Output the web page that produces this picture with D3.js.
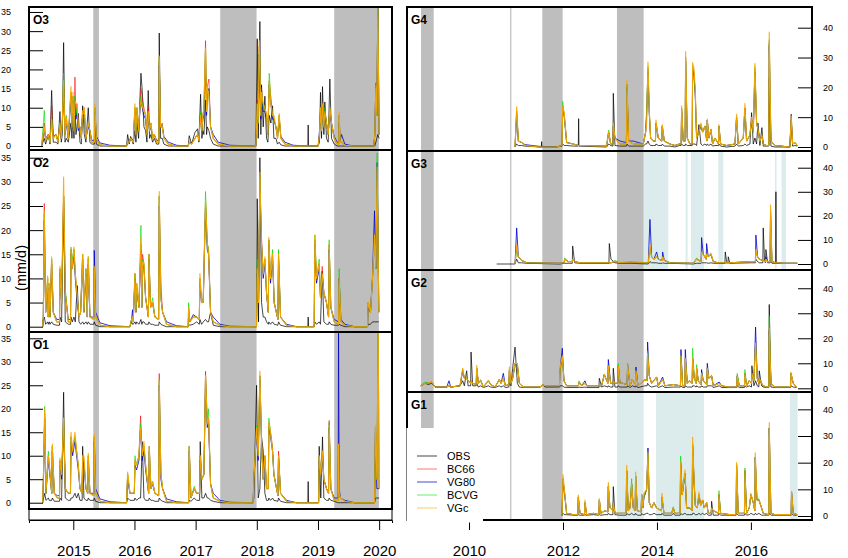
<!DOCTYPE html>
<html>
<head>
<meta charset="utf-8">
<script src="https://cdn.jsdelivr.net/npm/d3@7"></script>
<style>
  body { margin: 0; background: #fff; }
  text { font-family: "Liberation Sans", Arial, sans-serif; }
</style>
</head>
<body>
<div id="chart"></div>
<script>
// series order in every row: [year, OBS, BC66, VG80, BCVG, VGc]  (mm/d)
var seriesNames = ["OBS", "BC66", "VG80", "BCVG", "VGc"];

var leftYears = [2015, 2016, 2017, 2018, 2019, 2020];
var rightYears = [2010, 2012, 2014, 2016];
var leftTicks = [0, 5, 10, 15, 20, 25, 30, 35];
var rightTicks = [0, 10, 20, 30, 40];

// shaded periods (decimal years)
var leftGray = [[2015.327, 2015.419], [2017.402, 2017.996], [2019.265, 2019.995]];
var rightGray = [[2008.979, 2009.248], [2011.560, 2011.993], [2013.149, 2013.716]];
var g1Gray = [[2008.979, 2009.248], [2011.560, 2011.993]];
var g3Blue = [[2013.716, 2014.241], [2014.610, 2014.652], [2014.723, 2015.000], [2015.305, 2015.411], [2016.511, 2016.546], [2016.652, 2016.745]];
var g1Blue = [[2013.149, 2013.716], [2013.979, 2015.000], [2016.830, 2016.993]];
var rightMark = 2010.887;

var o3Rows = [
[2014.483,0,0,0,0,0],[2014.526,2,6,4,9.3,5],[2014.548,0.5,1.5,2,1.5,1.5],[2014.592,3,3,3,2,3],
[2014.619,0.5,1,1.5,1,1],[2014.646,14.5,10.5,7,8,7],[2014.673,1,2,2.5,2,2],[2014.717,1,3,3,3,3],
[2014.749,0.5,1,1.5,1,1],[2014.782,9,6,6,6,6],[2014.804,1,2,2,2,2],[2014.820,3,6,5,6,6],
[2014.842,27,16,15,19,17],[2014.864,1,3,3,3,3],[2014.886,2,7.5,6,8,7.5],[2014.918,1,2,2,2,2],
[2014.962,6,14,13,14,15.5],[2014.978,2,5,5,5,5],[2014.995,8,13,12,13,14],[2015.011,2,4,4,4,4],
[2015.027,10,18,12,13,12],[2015.044,3,8,7,8,11],[2015.060,5,11,9,10,11],[2015.082,8.5,5,4,5,5],
[2015.109,1,5,5,5,5],[2015.131,0.5,2,2,2,2],[2015.153,10.5,9,8,9,9],[2015.180,3,10,8,9,10],
[2015.207,1,2,2,2,2],[2015.245,10,6,5,6,6],[2015.272,1,4,4,4,4],[2015.300,0.5,1,1.5,1,1],
[2015.345,0.5,1,1.5,1,1],[2015.354,6,10,9,10,11],[2015.376,0.5,2,2.5,2,2],[2015.436,0,0.3,0.8,0.3,0.3],
[2015.600,0,0,0.2,0,0],[2015.871,0,0,0,0,0],[2015.888,3,1,1,1,1],[2015.915,0.5,1,1,1,1],
[2015.937,2.5,2,2,2,2],[2015.980,0.5,1,1.5,1,1],[2016.008,4,10,9,10,11],[2016.024,1,3,3,3,3],
[2016.040,6,10,9,10,10],[2016.068,2,4,4,4,4],[2016.089,12,10,9,10,10],[2016.106,19,15,12,13,12],
[2016.127,14.5,12.5,10,11,10.5],[2016.155,5,10,8,9,9],[2016.182,4,8,7,8,8.5],[2016.204,1,3,3,3,3],
[2016.225,14.5,10,8,9,9],[2016.247,2,4,4,4,4],[2016.269,3,6,5,6,6],[2016.296,1,2,2,2,2],
[2016.324,2,3,3,3,3],[2016.362,0.5,1,1.5,1,1],[2016.398,0.5,1,1.5,1,1],[2016.405,29.5,22,21,23,23.5],
[2016.427,2,5,5,5,5],[2016.455,2,6,5,5.5,5],[2016.481,0.5,2,2.5,2,2],[2016.552,0,0.5,1,0.5,0.5],
[2016.688,0,0,0.2,0,0],[2016.879,0,0,0,0,0],[2016.895,2.7,1,1,1,1],[2016.934,0.5,0.5,0.8,0.5,0.5],
[2016.988,3.5,2,2,2,2],[2017.032,4.5,3,3,3,3],[2017.053,1,1.5,2,1.5,1.5],[2017.081,13.5,9,8,9,8],
[2017.102,2,4,4,4,4],[2017.119,4,8,7,8,8],[2017.135,3,10,8,9,10],[2017.162,12,27.5,22,26,25.5],
[2017.179,3,9,8,9,9],[2017.190,5,15.5,14,15,15.5],[2017.217,4,17.5,15,14,13],[2017.244,2,5,5,5,5],
[2017.288,0.5,2,3,2,2],[2017.369,0,0.5,1,0.5,0.5],[2017.560,0,0,0.2,0,0],[2017.985,0,0,0,0,0],
[2018.007,28,12,11,11,11],[2018.023,2,6,6,6,6],[2018.039,15,26,24,25,27.5],[2018.050,32.5,20,21,23,22],
[2018.066,3,8,7,8,8],[2018.077,16,15,13,14,14],[2018.105,5,10,9,10,11],[2018.132,13,10,9,10,10],
[2018.159,2,8,7,8,8],[2018.181,1,3,3,3,3],[2018.203,8,17,16,19,17],[2018.230,6,12.5,11,12,11],
[2018.257,10.5,8,7,8,8],[2018.279,2,7,7,7,8],[2018.312,2,5,5,5,5],[2018.339,0.5,2,2.5,2,2],
[2018.366,1,8,7,8,8.5],[2018.393,0.3,2,2.5,2,2],[2018.459,0,0.5,1,0.5,0.5],[2018.595,0,0,0.2,0,0],
[2018.834,0,0,0,0,0],[2018.840,5.5,0,0,0,0],[2018.846,0,0,0,0,0],[2019.003,0,0,0,0,0],
[2019.025,1,3,4,3,3],[2019.041,14,10,9,10,10],[2019.058,2,4,4,4,4],[2019.074,15.5,11,9,10,11],
[2019.096,3,5,5,5,5],[2019.112,11.5,10,9,10,9],[2019.139,2,6,6,6,6],[2019.167,1,3,3,3,3],
[2019.194,17.5,10,9,10,10],[2019.221,2,6,6,6,6],[2019.265,0.5,2,2.5,2,2],[2019.314,0,0.5,1,0.5,0.5],
[2019.340,0,0.5,1,0.5,0.5],[2019.346,0,8,6,8,9],[2019.363,0,1,1.5,1,1],[2019.385,0,1,3,1,1],
[2019.439,0,0.2,0.5,0.2,0.2],[2019.575,0,0,0,0,0],[2019.913,0,0,0,0,0],[2019.929,0,3,3,3,3],
[2019.946,1,16.5,16,15,16],[2019.962,2,8,8,8,8],[2019.978,3,36,36,38,36],[2020.000,2,3,3,3,3]
];

var o2Rows = [
[2014.499,0,0,0,0,0],[2014.510,1.5,2,2,2,2],[2014.526,2,25.5,22,23.5,24],[2014.548,0.5,3,3,3,3],
[2014.581,1,10,9,10,10.5],[2014.592,0.5,2,2,2,2],[2014.608,1,8,8,9,9],[2014.619,0.5,2,2,2,2],
[2014.646,1,14,13,14,14.5],[2014.673,0.5,3,3,3,3],[2014.728,0.3,1,1.5,1,1],[2014.775,0.3,1,1.5,1,1],
[2014.782,2,12,11,12,12.5],[2014.809,1,5,5,5,5],[2014.842,27,27,26,27,31],[2014.869,1,7,7,8,7],
[2014.918,0.5,1,1.5,1,1],[2014.955,0.5,1,1.5,1,1],[2014.962,2,16,15,16.5,16],[2014.984,1,12,12,14,12],
[2015.011,2,16,15,16,16.5],[2015.033,1,11,10,11,11],[2015.065,8.5,6,5,6,6],[2015.093,1,2,2,2,2],
[2015.120,0.5,3,3,3,3],[2015.153,1,15,14,15,15],[2015.174,0.5,3,3,3,3],[2015.207,1,12,11,12,12],
[2015.229,0.5,2,2,2,2],[2015.245,1,14,13,14.5,14.5],[2015.272,0.5,2,2,2,2],[2015.335,0.5,1.5,2,1.5,1.5],
[2015.343,1,12,15.8,12,12.5],[2015.365,0.3,2,3,2,2],[2015.436,0,0.3,0.8,0.3,0.3],[2015.600,0,0,0.2,0,0],
[2015.926,0,0,0,0,0],[2015.953,1,1.5,1.5,1.5,1.5],[2015.969,0.5,2,3.5,2,2],[2015.980,0.5,1,1.5,1,1],
[2016.008,1,11,10,11,11],[2016.024,0.5,3,3,3,3],[2016.035,1,9,8,9,9],[2016.073,0.5,4,4,4,4],
[2016.106,1.5,17,16,21,18.5],[2016.120,0.5,4,4,4,4],[2016.133,1,15,13,14,13.5],[2016.155,1,13,12,13,13],
[2016.182,0.5,6,6,6,6],[2016.228,0.5,2,2,2,2],[2016.236,1,15,14,15,15],[2016.264,0.5,4,4,4,4],
[2016.296,0.5,5,5,6,5],[2016.334,0.3,2,2,2,2],[2016.395,0.3,1.5,1.5,1.5,1.5],[2016.405,1,27,25,27,28],
[2016.432,0.5,8.5,6,6,6],[2016.460,0.3,3,3,3,3],[2016.525,0,0.5,1,0.5,0.5],[2016.688,0,0,0.2,0,0],
[2016.879,0,0,0,0,0],[2016.885,0.5,4,3,5,4],[2016.906,0.3,1,1,1,1],[2016.961,0.5,2,2.5,2,2],
[2017.015,1,2,2,2,2],[2017.060,0.5,1.5,1.5,1.5,1.5],[2017.070,1.5,10,9,10,11],[2017.097,0.5,5,5,6,5],
[2017.124,1,5,5,5,5],[2017.162,1.5,26,25,28,26],[2017.190,1,17,16,17,17.5],[2017.211,1,16,15,16.5,15],
[2017.244,3,3,3,3,3],[2017.288,0.3,1,2,1,1],[2017.397,0,0.3,0.5,0.3,0.3],[2017.560,0,0,0.1,0,0],
[2017.995,0,0,0,0,0],[2018.007,26.5,12,11,14,12],[2018.028,1,5,5,5,5],[2018.050,35,30,29,31,32],
[2018.077,5,18.5,17,17,17],[2018.105,2,11,10,11,11],[2018.132,2,14,13,14,14.5],[2018.159,1,7,7,7,7],
[2018.188,0.5,3,3,3,3],[2018.197,1,18,17,18,18.5],[2018.224,0.5,10,9,10,10],[2018.257,1,15,14,16,15],
[2018.284,0.5,5,5,5,5],[2018.345,0.3,1.5,1.5,1.5,1.5],[2018.355,1,15,14,16,15],[2018.388,0.3,2,2,2,2],
[2018.486,0,0.3,0.5,0.3,0.3],[2018.650,0,0,0,0,0],[2018.834,0,0,0,0,0],[2018.840,2,0,0,0,0],
[2018.846,0,0,0,0,0],[2018.938,0,0,0,0,0],[2018.949,1,18,17,19,19],[2018.976,0.5,10,9,10,10],
[2019.020,1,13,12,14,13],[2019.041,0.5,6,6,6,6],[2019.069,11.5,12.5,11,11,11],[2019.096,1,7,7,7,7],
[2019.139,0.5,5,5,5,5],[2019.173,0.5,2,2,2,2],[2019.183,1,17,16,18,17],[2019.210,0.5,4,4,4,4],
[2019.265,0.3,1,1.5,1,1],[2019.336,0.3,0.5,1,0.5,0.5],[2019.346,0.5,10,10,12,10],[2019.374,0.3,1,1.5,1,1],
[2019.439,0,0.3,0.5,0.3,0.3],[2019.600,0,0,0,0,0],[2019.810,0,0,0,0,0],[2019.820,0.5,5,4,5,5],
[2019.858,0.5,3,3,3,3],[2019.891,1,10,10,10,10],[2019.924,1,19,24,19,19],[2019.946,1,12,12,12,12],
[2019.967,1,33,34,36,33],[2019.995,1,3,3,3,3]
];

var o1Rows = [
[2014.499,0,0,0,0,0],[2014.515,1,7,6,7,7.5],[2014.532,2,19,18,20.5,20],[2014.553,0.5,2,2,2,2],
[2014.592,1,10,9,11,10],[2014.608,0.5,8,7,8,8],[2014.648,0.5,2,2,2,2],[2014.657,1,12,11,12,12.5],
[2014.690,0.3,2,2,2,2],[2014.739,0.3,1,1.5,1,1],[2014.775,0.3,1,1.5,1,1],[2014.782,1,9,8,9,9.5],
[2014.809,0.5,6,5,6,6],[2014.842,23.5,17,16,18,18],[2014.869,1,3,3,3,3],[2014.918,0.5,2,2,2,2],
[2014.954,0.5,2,2,2,2],[2014.962,1,14,13,14,15],[2014.989,1,11,10,11,11],[2015.027,2,14,13,14,15],
[2015.054,1,11,10,11,11],[2015.082,2,8,7,8,8],[2015.109,0.5,3,3,3,3],[2015.145,0.5,2,2,2,2],
[2015.153,12,10,9,10,10],[2015.174,1,9,8,9,10],[2015.207,0.5,3,3,3,3],[2015.236,0.5,2,2,2,2],
[2015.245,1,10,9,10,10.5],[2015.272,0.5,2,2,2,2],[2015.335,0.5,1.5,2,1.5,1.5],[2015.343,1,14,13,14,14.5],
[2015.365,0.3,2,3,2,2],[2015.436,0,0.3,0.8,0.3,0.3],[2015.600,0,0,0.2,0,0],[2015.871,0,0,0,0,0],
[2015.888,1,6,5,6,6.5],[2015.926,0.5,2,2,2,2],[2015.998,0.5,2,2,2,2],[2016.008,1,9,8,10,9],
[2016.035,0.5,8,7,8,8],[2016.073,1,10,9,10,10],[2016.100,1,18.5,16,17,16],[2016.127,13,10,9,10,10],
[2016.155,1,12,11,12,13],[2016.182,0.5,8,7,8,8],[2016.232,0.5,2,2,2,2],[2016.242,1,12,11,12,12],
[2016.269,0.5,3,3,3,3],[2016.296,0.5,4.5,4,4.5,4.5],[2016.334,0.3,2,2,2,2],[2016.395,0.3,1.5,1.5,1.5,1.5],
[2016.405,1,27.5,25,26,26],[2016.432,0.5,6,5,6.5,6],[2016.460,0.3,3,3,3,3],[2016.525,0,0.3,0.8,0.3,0.3],
[2016.688,0,0,0.2,0,0],[2016.885,0,0,0,0,0],[2016.895,0.5,12,11,12,12],[2016.923,0.3,1,1,1,1],
[2016.977,1,3,3,3.5,3],[2017.015,0.5,2,2,2,2],[2017.065,0.5,2,2,2,2],[2017.075,13,10,9,10,10],
[2017.102,1,5,5,5,5],[2017.135,1,6,6,6,6],[2017.162,2,28,26,27,27],[2017.190,1,17,16,17,17],
[2017.211,1,18,17,20,18],[2017.244,0.5,4,4,4,4],[2017.288,0.3,1,2,1,1],[2017.397,0,0.3,0.5,0.3,0.3],
[2017.560,0,0,0.1,0,0],[2017.940,0,0,0,0,0],[2017.952,1,5,5,5,5],[2017.996,25,16,15,16.5,16],
[2018.023,1,10,9,10,10],[2018.050,3,27,26,27,28],[2018.077,14,14,13,13,13],[2018.105,11,5,5,5,5],
[2018.132,2,10,9,10,10],[2018.159,0.5,3,3,3,3],[2018.188,0.5,3,3,3,3],[2018.197,1,17,16,18,17],
[2018.224,0.5,15,14,15,15],[2018.257,1,12,11,11,11],[2018.279,0.5,6,6,6,6],[2018.345,0.3,1.5,1.5,1.5,1.5],
[2018.355,1,11,10,10,10],[2018.388,0.3,2,2,2,2],[2018.486,0,0.3,0.5,0.3,0.3],[2018.650,0,0,0,0,0],
[2018.834,0,0,0,0,0],[2018.840,4.5,0,0,0,0],[2018.846,0,0,0,0,0],[2019.010,0,0,0,0,0],
[2019.020,12,10,9,10,10],[2019.046,1,6,6,6,6],[2019.074,14,11,10,11,11],[2019.096,1,5,5,5,5],
[2019.139,0.5,3,3,3,3],[2019.173,0.5,2,2,2,2],[2019.183,1,17.5,16,17,16.5],[2019.210,0.5,3,3,3,3],
[2019.265,0.3,0.5,1,0.5,0.5],[2019.330,0,0.5,1,0.5,0.5],[2019.336,0,12,38,12,12.5],[2019.346,0,2,3,2,2],
[2019.368,0,1,1,1,1],[2019.439,0,0.3,0.5,0.3,0.3],[2019.600,0,0,0,0,0],[2019.925,0,0,0,0,0],
[2019.940,1,16,16,16,16.5],[2019.962,1,5,3,5,5],[2019.984,1,36,3,37,36],[2020.000,1,3,3,3,3]
];

var g4Rows = [
[2010.979,0,0,0,0,0],[2011.014,1,12,11,12,13.5],[2011.050,0.5,2,2,2,2],[2011.121,0.5,1.5,1.5,1.5,1.5],
[2011.191,0.3,0.5,0.8,0.5,0.5],[2011.511,0,0,0.2,0,0],[2011.540,0,0,0.2,0,0],[2011.546,1.8,0,0.2,0,0],
[2011.552,0,0,0.2,0,0],[2011.865,0,0,0.1,0,0],[2011.982,0.3,0.5,0.5,0.5,0.5],[2011.993,1,14,13,15.3,14],
[2012.028,0.5,11,10,10,11],[2012.078,0.5,1.5,1.5,1.5,1.5],[2012.220,0.3,1,1,1,1],[2012.326,0.3,0.5,0.5,0.5,0.5],
[2012.333,9.5,0.5,0.5,0.5,0.5],[2012.340,0.3,0.5,0.5,0.5,0.5],[2012.929,0,0.3,0.3,0.3,0.3],[2012.972,1,5,5,5.7,5],
[2013.014,0.5,1,1,1,1],[2013.064,0.3,1,1,1,1],[2013.071,18,7,7,7,8],[2013.106,0.5,3,3,3,3],
[2013.213,0.3,1,2,1,1],[2013.350,0.3,1,1.5,1,1],[2013.362,1,21,20,21,22.5],[2013.397,0.3,2,2,2,2],
[2013.496,0.3,1,2,1,1],[2013.709,0.3,1,1,1,1],[2013.759,1,5,5,5,5],[2013.780,1,10,11,12.5,8],
[2013.809,2,26,25,27,28.5],[2013.837,1,12,11,12,12],[2013.865,0.5,3,3,3,3],[2013.922,0.5,2,2,2,2],
[2013.968,0.5,2,2,2,2],[2013.979,1,8,8,8,9],[2014.028,0.5,3,3,3,3],[2014.102,0.5,2,2,2,2],
[2014.113,1,7,7,7,7.5],[2014.156,0.3,2,2,2,2],[2014.277,0.3,1,1,1,1],[2014.383,0,0.5,0.5,0.5,0.5],
[2014.475,0.5,1,1,1,1],[2014.515,0.5,1,1,1,1],[2014.525,1,13,12,13,13.8],[2014.560,0.5,2,2,2,2],
[2014.600,0.5,2,2,2,2],[2014.610,1,30,29,30,32],[2014.645,0.5,3,3,3,3],[2014.702,0.5,1,1,1,1],
[2014.750,0.5,1,1,1,1],[2014.759,1,27,26,27,28.3],[2014.787,1,25,24,25,26.4],[2014.816,1,18,17,18,19.2],
[2014.844,0.5,3,3,3,3],[2014.894,7.5,5,5,5,5],[2014.936,1,7.5,7,7.5,8],[2014.972,0.5,5,5,5,5],
[2015.021,1,7,7,7,7],[2015.060,0.5,2,2,2,2],[2015.071,1,9,9,9,9.4],[2015.106,0.5,3,3,3,3],
[2015.149,1,6,5.5,6,6],[2015.184,0.3,1,1,1,1],[2015.234,0.5,3,3,3,3],[2015.310,0.5,1,1,1,1],
[2015.319,1,7,7,7,7.5],[2015.355,0.3,1,1,1,1],[2015.482,0,0.5,0.5,0.5,0.5],[2015.660,0.3,1,1,1,1],
[2015.695,1,10,10,10,11],[2015.730,0.3,1,1,1,1],[2015.837,0.5,3,3,3,3],[2015.872,1,13,13,13,14.6],
[2015.908,0.5,2,2,2,2],[2015.979,1,4,4,4,4],[2016.014,11.5,9,9,9,10],[2016.050,1,5,5,5,5],
[2016.085,3,26,25,27,28],[2016.121,1,8,8,8,8],[2016.149,8,6,6,6,6],[2016.191,0.5,2,2,2,2],
[2016.234,6.5,4,4,4,4],[2016.262,0.3,1,1,1,1],[2016.333,0.3,0.5,0.5,0.5,0.5],[2016.380,0.3,0.5,0.5,0.5,0.5],
[2016.390,23,35,34,36,38.5],[2016.426,0.3,2,2,2,2],[2016.511,0,0.5,0.5,0.5,0.5],[2016.830,0,0,0,0,0],
[2016.858,11,9,9,9,10.5],[2016.887,0.3,1,1,1,1],[2016.936,0.5,1.5,1.5,1.5,1.5],[2016.986,0.3,0.5,0.5,0.5,0.5]
];

var g3Rows = [
[2010.589,0,null,null,null,null],[2010.979,0,0,0,0,0],[2011.014,2,7,15,6,8],[2011.050,0.5,3,3,3,3],
[2011.121,0.5,1.5,1.5,1.5,1.5],[2011.227,0.3,0.5,0.5,0.5,0.5],[2011.936,0,0.3,0.3,0.3,0.3],[2012.025,0.3,0.5,0.5,0.5,0.5],
[2012.035,0.3,2,2,2.5,2],[2012.113,0.3,1,1,1,1],[2012.198,0.3,1,1,1,1],[2012.206,7.5,2,2,2,2],
[2012.248,0.5,1,1,1,1],[2012.362,0.3,0.5,0.5,0.5,0.5],[2012.978,0.3,0.5,0.5,0.5,0.5],[2012.986,8.5,0.5,0.5,0.5,0.5],
[2013.021,2,0.5,0.5,0.5,0.5],[2013.106,0.5,1,1,1.5,1],[2013.213,0.3,0.5,0.5,0.5,0.5],[2013.426,0.3,0.5,0.5,1,0.5],
[2013.816,0,0.5,0.5,0.5,0.5],[2013.851,1,7,18.5,6,8],[2013.887,0.5,3,3,3,3],[2013.936,0.5,2,2,2,2],
[2013.993,0.5,3,5,3,3],[2014.028,0.3,2,2,2,2],[2014.112,0.3,1.5,1.5,1.5,1.5],[2014.121,0.5,3,5,3,3],
[2014.156,0.3,1.5,1.5,1.5,1.5],[2014.277,0.3,0.5,0.5,0.5,0.5],[2014.773,0,0.3,0.3,0.3,0.3],[2014.844,0.3,2,2,2.5,2],
[2014.940,0.3,1,1,1,1],[2014.950,0.5,5,11,4,5],[2014.986,0.5,4,4,4,4],[2015.047,0.5,2,2,2,2],
[2015.057,0.5,4,8.5,4,4],[2015.092,0.3,3,3,3,3],[2015.149,0.5,4,4,4,4.5],[2015.199,0.3,1,1,1,1],
[2015.305,0.3,0.5,0.5,0.5,0.5],[2015.446,0.3,0.5,0.5,0.5,0.5],[2015.454,5,0.5,0.5,0.5,0.5],[2015.482,1,0.5,0.5,0.5,0.5],
[2015.512,0.5,0.5,0.5,0.5,0.5],[2015.518,3,0.5,0.5,0.5,0.5],[2015.553,0.3,0.5,0.5,0.5,0.5],[2016.014,0.5,1,1,1,1],
[2016.095,0.5,1,1,1,1],[2016.106,2,5,12,5,6],[2016.142,1,3,3,3,3],[2016.177,0.5,2,2,2,2],
[2016.254,0.5,1.5,1.5,1.5,1.5],[2016.262,15,2,2,2,2],[2016.291,1,1,1,1,1],[2016.312,0.5,1,1,1,1],
[2016.319,6,2,3,2,2],[2016.355,0.5,1,1,1,1],[2016.408,0.5,1,1,1,1],[2016.418,1,22,20,22,24.5],
[2016.447,0.3,1,1,1,1],[2016.525,0.3,0.5,0.5,0.5,0.5],[2016.532,30,0.5,0.5,0.5,0.5],[2016.540,0.3,0.5,0.5,0.5,0.5],
[2016.688,0.3,0.3,0.3,0.3,0.3],[2016.986,0.3,0.3,0.3,0.3,0.3]
];

var g2Rows = [
[2008.972,1,1,1,1,1],[2009.064,2,2,2,2.5,2],[2009.135,1.5,2,2,2,2],[2009.206,2,2.5,2.5,2.5,2.5],
[2009.277,0.5,0.5,0.5,0.5,0.5],[2009.525,0.5,0.5,0.5,0.5,0.5],[2009.574,1,1,3,1,1],[2009.610,0.5,0.5,0.5,0.5,0.5],
[2009.809,1,1,1,1,1],[2009.865,3,7,7,8,7.9],[2009.901,1,4,4,4,4],[2009.950,7,4,4,4,4],
[2009.979,1,3,3,3,3],[2010.035,1,2,2,2,2],[2010.043,14.5,3,3,3,3],[2010.078,1,2,2,2,2],
[2010.153,1,1.5,1.5,1.5,1.5],[2010.163,2,8,8,8,9.2],[2010.199,0.5,2,2,2,2],[2010.248,1,3,3,3.5,3],
[2010.305,0.3,0.5,0.5,0.5,0.5],[2010.411,1,3,3,3,3],[2010.461,0.5,1.5,1.5,1.5,1.5],[2010.553,0.3,0.5,0.5,0.5,0.5],
[2010.645,1,3.5,3.5,3.5,3.5],[2010.681,0.5,2,2,2,2],[2010.730,1,4,6,4,4],[2010.773,0.3,1,1,1,1],
[2010.848,0.5,1.5,1.5,1.5,1.5],[2010.858,2,7,7,7,8.5],[2010.894,1,2,2,2,2],[2010.929,8,4,4,4,4],
[2010.979,16.5,9,10,9,10],[2011.028,2,10,9,10,9.9],[2011.071,0.5,2,2,2,2],[2011.156,0.3,0.5,0.5,0.5,0.5],
[2011.511,0.3,0.5,0.5,0.5,0.5],[2011.567,1.5,1.5,1.5,1.5,1.5],[2011.617,0.5,1,1,1,1],[2011.723,0.5,1,1,1,1],
[2011.865,0.5,1,1,1,1],[2011.925,0.5,1,1,1,1],[2011.936,1,7,7,7,8],[2011.986,1,12,16,12,13],
[2012.021,0.5,3,3,3,3],[2012.078,0.3,1,1,1,1],[2012.330,0.3,1,1,1,1],[2012.340,0.5,2.5,2.5,3,2.5],
[2012.397,0.3,1,1,1,1],[2012.468,0.5,2,3,2,2],[2012.504,0.3,1,1,1,1],[2012.765,0.3,1,1,1,1],
[2012.773,4,1,1,1,1],[2012.823,0.5,1,1,1,1],[2012.879,1,5.5,5.5,5.5,5.5],[2012.955,0.5,2,2,2,2],
[2012.965,1,9,11.5,9,9],[2013.014,0.5,2,2,2,2],[2013.063,0.5,2,2,2,2],[2013.071,8,3,3,3,3],
[2013.106,0.5,2,2,2,2],[2013.168,0.5,2,2,2,2],[2013.177,1,9,9,10,9],[2013.213,0.5,2,2,2,2],
[2013.270,0.5,2,2,2,2],[2013.365,0.5,1.5,1.5,1.5,1.5],[2013.376,1,9,9,10,9],[2013.426,0.3,1,1,1,1],
[2013.475,1,3.5,3.5,3.5,3.5],[2013.543,0.5,1.5,1.5,1.5,1.5],[2013.553,1,7,8.5,7,7],[2013.596,0.3,1,1,1,1],
[2013.745,1,3.5,3.5,3.5,3.5],[2013.790,1,3,3,3,3],[2013.801,2,14,18.5,15,14],[2013.837,1,5,5,5,5],
[2013.887,0.5,2,2,2,2],[2013.993,1,4.5,4.5,4.5,4.5],[2014.028,0.3,1,1,1,1],[2014.121,1,3.5,4.5,3.5,3.5],
[2014.170,0.3,1,1,1,1],[2014.348,0.5,1.5,1.5,1.5,1.5],[2014.500,0.5,1,1,1,1],[2014.511,1,13,15.5,13,13],
[2014.546,0.3,1,1,1,1],[2014.593,0.3,1,1,1,1],[2014.603,1,12,15.5,12,12],[2014.645,0.5,2,2,2,2],
[2014.688,0.5,3,3,3,3],[2014.750,0.5,2,2,2,2],[2014.759,1,12,12,16,12],[2014.794,1,4,4,4,4],
[2014.834,0.5,2,2,2,2],[2014.844,1,8,8,9.5,8],[2014.879,0.5,3,3,3,3],[2014.940,0.5,1.5,1.5,1.5,1.5],
[2014.950,1,6,7.5,6,6],[2014.986,0.5,3,3,3,3],[2015.060,0.5,1.5,1.5,1.5,1.5],[2015.071,1,8,10,8,8],
[2015.106,1,4,4,4,4],[2015.163,1,5,5,5,5],[2015.199,0.3,1,1,1,1],[2015.326,1,2,2.5,2,2],
[2015.376,0.3,1,1,1,1],[2015.518,0.3,0.5,0.5,0.5,0.5],[2015.698,0.3,0.5,0.5,0.5,0.5],[2015.709,1,5,5,6,5],
[2015.752,0.3,1,1,1,1],[2015.862,0.3,1,1,1,1],[2015.872,1,6,6,7.5,6],[2015.908,0.5,1,1,1,1],
[2015.965,1,3,3,3,3],[2016.012,0.5,2,2,2,2],[2016.021,9,6,6,6,6],[2016.064,1,3,3,3,3],
[2016.099,3,18,24.5,18,18],[2016.135,1,4,4,4,4],[2016.168,0.5,2,2,2,2],[2016.177,7,4,4,4,4],
[2016.227,1,2,2,2,2],[2016.262,0.5,1,1,1,1],[2016.333,0.3,0.5,0.5,0.5,0.5],[2016.380,0.3,0.5,0.5,0.5,0.5],
[2016.390,33.5,24,23,29,24],[2016.426,0.5,2,2,2,2],[2016.511,0.3,0.5,0.5,0.5,0.5],[2016.816,0.3,0.5,0.5,0.5,0.5],
[2016.843,0.3,0.5,0.5,0.5,0.5],[2016.851,1,6,6,6,6.5],[2016.901,0.5,2,2,2,2],[2016.972,0.3,0.5,0.5,0.5,0.5]
];

var g1Rows = [
[2011.979,0,0,0,0,0],[2012.000,1,14,13,14,15.5],[2012.028,0.5,10,9,10,10],[2012.078,0.5,1,1,1,1],
[2012.220,0.3,0.5,0.5,0.5,0.5],[2012.316,0.3,0.5,0.5,0.5,0.5],[2012.326,0.5,7,7,7,7.9],[2012.362,0.3,1,1,1,1],
[2012.458,0.3,0.5,0.5,0.5,0.5],[2012.468,0.5,5,5,5,6],[2012.504,0.3,0.5,0.5,0.5,0.5],[2012.645,0.5,1,1,1,1],
[2012.763,0.3,0.5,0.5,0.5,0.5],[2012.773,0.5,6,6,6,6.5],[2012.809,0.3,1,1,1,1],[2012.894,0.5,2,2,2,2],
[2012.955,0.5,1.5,1.5,1.5,1.5],[2012.965,1,11,11,11,12.5],[2013.000,0.5,3,3,3,3],[2013.063,0.5,2,2,2,2],
[2013.071,11,5,5,5,5],[2013.106,0.5,1,1,1,1],[2013.213,0.3,1,1,1,1],[2013.345,0.3,1,1,1,1],
[2013.355,1,17,17,17,19],[2013.390,0.5,2,2,2,2],[2013.426,0.5,3,3,3,3],[2013.461,1,12,12,14,12],
[2013.496,0.5,3,3,3,3],[2013.537,0.5,2,2,2,2],[2013.546,1,15,15,15,16.5],[2013.582,0.3,2,2,2,2],
[2013.664,0.3,1.5,1.5,1.5,1.5],[2013.674,1,8,8,8,8],[2013.700,0.5,3,3,3,3],[2013.723,0.5,7,7,7,8.5],
[2013.780,1,10,10,10,10],[2013.809,1,22,25.5,23,24],[2013.837,0.5,5,5,5,5],[2013.887,0.5,3,3,3,3],
[2013.936,1,5,5,5,5],[2013.993,0.5,3,3,3,3],[2014.096,0.5,2,2,2,2],[2014.106,1,7,7,7,8.5],
[2014.149,0.3,1,1,1,1],[2014.312,0.3,1,1,1,1],[2014.348,1,3,3,3.5,3],[2014.383,0.3,1,1,1,1],
[2014.494,0.3,1,1,1,1],[2014.504,1,20,20,22.5,20],[2014.539,0.5,8,8,8,8],[2014.596,1,16,16,16,17.2],
[2014.631,0.5,3,3,3,3],[2014.702,0.5,3,3,3,3],[2014.750,0.5,2,2,2,2],[2014.759,1,27,26,27,29.5],
[2014.787,1,14,14,14,15],[2014.816,0.5,4,4,4,4],[2014.858,0.5,3,3,3,3],[2014.894,1,8,8,8,9],
[2014.929,0.5,4,4,4,4],[2014.972,1,6,6,6,6],[2015.007,0.5,3,3,3,3],[2015.057,1,5,5,5,5],
[2015.092,0.3,1,1,1,1],[2015.155,0.3,1,1,1,1],[2015.163,5.5,3,3,3,3],[2015.199,0.3,2,2,2,2],
[2015.310,0.3,1,1,1,1],[2015.319,1,8,8,9.5,8],[2015.355,0.3,1,1,1,1],[2015.553,0.3,0.5,0.5,0.5,0.5],
[2015.685,0.3,0.5,0.5,0.5,0.5],[2015.695,1,19,19,19.5,20],[2015.730,0.3,1,1,1,1],[2015.862,0.3,1,1,1,1],
[2015.872,1,17,17,18,17],[2015.908,0.3,1,1,1,1],[2015.965,0.5,3,3,3,3],[2016.000,1,8,8,8,8.5],
[2016.050,0.5,5,5,5,5],[2016.082,0.5,2,2,2,2],[2016.092,1,22,22,22,23.7],[2016.128,0.5,6,6,6,6],
[2016.170,1,6,6,6.5,6],[2016.227,0.3,3,3,3,3],[2016.262,0.3,1,1,1,1],[2016.380,0.3,0.5,0.5,0.5,0.5],
[2016.390,1,33,33,33,35],[2016.426,0.3,1,1,1,1],[2016.511,0.3,0.5,0.5,0.5,0.5],[2016.816,0.3,0.5,0.5,0.5,0.5],
[2016.857,0.3,0.5,0.5,0.5,0.5],[2016.865,1,9,9,9,9.3],[2016.901,0.3,1,1,1,1],[2016.986,0.3,0.5,0.5,0.5,0.5]
];

var colors = ["#000000", "#ff0000", "#0000cd", "#00dd00", "#ffa500"];
var alphas = [0.8, 0.6, 0.8, 0.65, 0.92];
var widths = [0.9, 1, 1, 1, 1.1];

var svg = d3.select("#chart").append("svg")
    .attr("width", 848).attr("height", 558);

var xLeft = d3.scaleLinear().domain([2014.276, 2020.21]).range([29, 392]);
var xRight = d3.scaleLinear().domain([2008.68, 2017.30]).range([407, 812]);

var panels = [
  {name: "O3", rows: o3Rows, x: xLeft, side: "left", top: 7, bottom: 150, ymin: -1.04, ymax: 36.3, gray: leftGray, blue: []},
  {name: "O2", rows: o2Rows, x: xLeft, side: "left", top: 150, bottom: 332, ymin: -1.1, ymax: 36.6, gray: leftGray, blue: []},
  {name: "O1", rows: o1Rows, x: xLeft, side: "left", top: 332, bottom: 509, ymin: -1.34, ymax: 36.34, gray: leftGray, blue: []},
  {name: "G4", rows: g4Rows, x: xRight, side: "right", top: 7, bottom: 151, ymin: -1.34, ymax: 46.94, gray: rightGray, blue: []},
  {name: "G3", rows: g3Rows, x: xRight, side: "right", top: 151, bottom: 270, ymin: -2.49, ymax: 46.94, gray: rightGray, blue: g3Blue},
  {name: "G2", rows: g2Rows, x: xRight, side: "right", top: 270, bottom: 392, ymin: -1.48, ymax: 47.3, gray: rightGray, blue: []},
  {name: "G1", rows: g1Rows, x: xRight, side: "right", top: 392, bottom: 520, ymin: -1.5, ymax: 46.5, gray: g1Gray, blue: g1Blue}
];

panels.forEach(function (p, pi) {
  var x = p.x;
  var x0 = x.range()[0], x1 = x.range()[1];
  var y = d3.scaleLinear().domain([p.ymin, p.ymax]).range([p.bottom, p.top]);
  var g = svg.append("g");

  g.append("clipPath").attr("id", "clip" + pi)
    .append("rect").attr("x", x0).attr("y", p.top)
    .attr("width", x1 - x0).attr("height", p.bottom - p.top);

  g.selectAll(".blue").data(p.blue).enter().append("rect")
    .attr("x", function (d) { return x(d[0]); })
    .attr("width", function (d) { return x(d[1]) - x(d[0]); })
    .attr("y", p.top).attr("height", p.bottom - p.top)
    .attr("fill", "#dcebeb");

  g.selectAll(".gray").data(p.gray).enter().append("rect")
    .attr("x", function (d) { return x(d[0]); })
    .attr("width", function (d) { return x(d[1]) - x(d[0]); })
    .attr("y", p.top).attr("height", p.bottom - p.top)
    .attr("fill", "#bebebe");

  if (p.side == "right") {
    g.append("line")
      .attr("x1", x(rightMark)).attr("x2", x(rightMark))
      .attr("y1", p.top).attr("y2", p.bottom)
      .attr("stroke", "#c8c8c8").attr("stroke-width", 1.5);
  }

  var lines = g.append("g").attr("clip-path", "url(#clip" + pi + ")");
  seriesNames.forEach(function (s, i) {
    var line = d3.line()
      .defined(function (d) { return d[i + 1] != null; })
      .x(function (d) { return x(d[0]); })
      .y(function (d) { return y(d[i + 1]); });
    lines.append("path")
      .datum(p.rows)
      .attr("d", line)
      .attr("fill", "none")
      .attr("stroke", colors[i])
      .attr("stroke-opacity", alphas[i])
      .attr("stroke-width", widths[i])
      .attr("stroke-linejoin", "round");
  });

  // y axis, ticks pointing into the panel
  var axis;
  if (p.side == "left") {
    axis = d3.axisLeft(y).tickValues(leftTicks).tickSize(-14).tickPadding(18);
  } else {
    axis = d3.axisRight(y).tickValues(rightTicks).tickSize(-14).tickPadding(11);
  }
  var ax = g.append("g")
    .attr("transform", "translate(" + (p.side == "left" ? x0 : x1) + ",0)")
    .call(axis);
  ax.select(".domain").remove();
  ax.selectAll("text").attr("font-size", 9).attr("fill", "#000")
    .style("font-family", "'Liberation Sans', Arial, sans-serif");
  ax.selectAll("line").attr("stroke", "#000");

  g.append("rect")
    .attr("x", x0).attr("y", p.top)
    .attr("width", x1 - x0).attr("height", p.bottom - p.top)
    .attr("fill", "none").attr("stroke", "#000").attr("stroke-width", 2);

  g.append("text")
    .attr("x", x0 + 4).attr("y", p.top + 17)
    .attr("font-size", 12).attr("font-weight", "bold")
    .text(p.name);
});

// outer frame of left column
svg.append("rect")
  .attr("x", 29).attr("y", 7).attr("width", 363).attr("height", 513)
  .attr("fill", "none").attr("stroke", "#000").attr("stroke-width", 1);

// x axes
var axL = svg.append("g").attr("transform", "translate(0,520)")
  .call(d3.axisBottom(xLeft).tickValues(leftYears).tickFormat(d3.format("d"))
    .tickSize(10).tickSizeOuter(3).tickPadding(15));
var axR = svg.append("g").attr("transform", "translate(0,522.5)")
  .call(d3.axisBottom(xRight).tickValues(rightYears).tickFormat(d3.format("d"))
    .tickSize(7.5).tickPadding(15.5));
axR.select(".domain").remove();
[axL, axR].forEach(function (a) {
  a.selectAll("text").attr("font-size", 15).attr("fill", "#000")
    .style("font-family", "'Liberation Sans', Arial, sans-serif");
  a.selectAll("line").attr("stroke", "#000");
  a.select(".domain").attr("stroke", "#000");
});

svg.append("text")
  .attr("transform", "translate(26,268) rotate(-90)")
  .attr("text-anchor", "middle")
  .attr("font-size", 14.5)
  .text("(mm/d)");

// legend (white box over lower left of G1)
var legend = svg.append("g");
legend.append("rect")
  .attr("x", 406.5).attr("y", 428).attr("width", 76.5).attr("height", 94)
  .attr("fill", "#fff");
var items = legend.selectAll(".item").data(seriesNames).enter().append("g")
  .attr("transform", function (d, i) { return "translate(0," + (456 + 13 * i) + ")"; });
items.append("line")
  .attr("x1", 417).attr("x2", 437)
  .attr("stroke", function (d, i) { return colors[i]; })
  .attr("stroke-opacity", function (d, i) { return i == 4 ? 0.5 : alphas[i] * 0.75; })
  .attr("stroke-width", 1.2);
items.append("text")
  .attr("x", 447).attr("dy", "0.35em")
  .attr("font-size", 11)
  .text(function (d) { return d; });
</script>
</body>
</html>
